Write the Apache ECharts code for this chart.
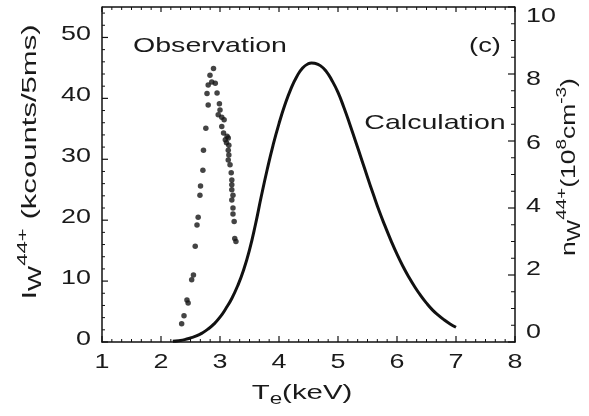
<!DOCTYPE html>
<html>
<head>
<meta charset="utf-8">
<script src="https://cdn.jsdelivr.net/npm/echarts@6/dist/echarts.min.js"></script>
<style>html,body{margin:0;padding:0;background:#fff;}#c{width:589px;height:416px;}</style>
</head>
<body>
<div id="c"></div>
<script>
// Calculation curve: T_e (keV) vs n_W44+ (10^8 cm^-3), right axis
const calcT = [2.2,2.3,2.4,2.5,2.6,2.7,2.8,2.9,3.0,3.1,3.2,3.3,3.4,3.5,3.6,3.7,3.8,3.9,4.0,4.1,4.2,4.3,4.4,4.5,4.55,4.6,4.7,4.8,4.9,5.0,5.1,5.2,5.3,5.4,5.5,5.6,5.7,5.8,5.9,6.0,6.1,6.2,6.3,6.4,6.5,6.6,6.7,6.8,6.9,7.0];
const calcN = [0.02,0.04,0.07,0.12,0.18,0.27,0.39,0.54,0.74,1.0,1.3,1.68,2.15,2.75,3.5,4.35,5.15,5.88,6.52,7.08,7.55,7.92,8.18,8.31,8.33,8.32,8.25,8.08,7.8,7.45,7.0,6.5,5.98,5.45,4.92,4.4,3.9,3.45,3.02,2.62,2.26,1.94,1.65,1.39,1.16,0.96,0.8,0.66,0.54,0.44];
// Observation points: T_e (keV) vs I_W44+ (kcounts/5ms), left axis
const obsT = [2.35,2.39,2.44,2.46,2.52,2.55,2.58,2.61,2.63,2.66,2.67,2.71,2.72,2.76,2.80,2.78,2.80,2.83,2.89,2.86,2.92,2.95,2.99,3.00,2.97,3.03,3.06,3.14,3.11,3.14,3.14,3.17,3.19,3.20,3.20,3.20,3.22,3.22,3.24,3.25,3.27,3.09,3.15,3.12,3.15,3.07,3.03,3.20,3.22];
const obsI = [3.0,4.3,6.9,6.4,10.2,11.0,15.7,19.2,20.5,24.1,25.6,28.2,31.5,35.1,38.9,40.8,42.2,43.8,44.9,42.7,42.5,40.9,39.1,38.1,37.3,35.4,34.3,33.5,32.7,31.5,29.9,29.1,27.8,26.6,25.0,23.3,22.0,21.0,19.8,17.0,16.5,33.2,32.3,33.8,30.7,36.5,36.9,25.8,24.1];
// Axis ranges / tick labels
const xRange = [1, 8], xStep = 1, xMinorSplit = 6;
const yLeftRange = [0, 55], yLeftStep = 10, yLeftMinorStep = 2;
const yRightRange = [0, 10], yRightStep = 2, yRightMinorStep = 0.5;
const xTickLabels = ['1', '2', '3', '4', '5', '6', '7', '8'];
const yLeftTickLabels = ['0', '10', '20', '30', '40', '50'];
const yRightTickLabels = ['0', '2', '4', '6', '8', '10'];

const chart = echarts.init(document.getElementById('c'), null, {renderer: 'canvas'});
const axisLineStyle = {color: '#111', width: 1.5};
const txt = '#1a1a1a';
const base = 'Liberation Sans';

chart.setOption({
  animation: false,
  grid: {left: 102, right: 74, top: 7, bottom: 74},
  xAxis: [
    {type: 'value', min: xRange[0], max: xRange[1], interval: xStep, position: 'bottom',
     axisLine: {show: true, onZero: false, lineStyle: axisLineStyle}, splitLine: {show: false},
     axisTick: {show: false}, axisLabel: {show: false}}
  ],
  yAxis: [
    {type: 'value', min: yLeftRange[0], max: yLeftRange[1], interval: yLeftStep, position: 'left',
     axisLine: {show: true, onZero: false, lineStyle: axisLineStyle}, splitLine: {show: false},
     axisTick: {show: false}, axisLabel: {show: false}},
    {type: 'value', min: yRightRange[0], max: yRightRange[1], interval: yRightStep, position: 'right',
     axisLine: {show: true, onZero: false, lineStyle: axisLineStyle}, splitLine: {show: false},
     axisTick: {show: false}, axisLabel: {show: false}}
  ],
  series: [
    {name: 'Calculation', type: 'line', xAxisIndex: 0, yAxisIndex: 1, smooth: true, showSymbol: false,
     lineStyle: {color: '#111', width: 3}, data: calcT.map((t, i) => [t, calcN[i]])},
    {name: 'Observation', type: 'scatter', xAxisIndex: 0, yAxisIndex: 0, symbolSize: 5.5,
     itemStyle: {color: '#151515'}, data: obsT.map((t, i) => [t, obsI[i]])}
  ]
});

// Pixel positions from the chart's own scales
const px = v => chart.convertToPixel({xAxisIndex: 0}, v);
const pyL = v => chart.convertToPixel({yAxisIndex: 0}, v);
const pyR = v => chart.convertToPixel({yAxisIndex: 1}, v);
const L = px(xRange[0]), R = px(xRange[1]), B = pyL(yLeftRange[0]), T = pyL(yLeftRange[1]);

const g = [];
function seg(x1, y1, x2, y2, w) {
  g.push({type: 'line', silent: true, shape: {x1: x1, y1: y1, x2: x2, y2: y2}, style: {stroke: '#111', lineWidth: w}});
}
// top frame line
seg(L, T, R, T, 1.5);
// x ticks (bottom and top, inward)
for (let i = 0; i <= (xRange[1] - xRange[0]) * xMinorSplit; i++) {
  const v = xRange[0] + i / xMinorSplit, major = i % xMinorSplit === 0, x = px(v);
  seg(x, B, x, B - (major ? 6 : 3), major ? 1.2 : 1);
  seg(x, T, x, T + (major ? 5 : 3), major ? 1.2 : 1);
}
// left y ticks
for (let v = yLeftRange[0]; v <= yLeftRange[1]; v += yLeftMinorStep) {
  const major = v % yLeftStep === 0, y = pyL(v);
  seg(L, y, L + (major ? 6 : 3), y, major ? 1.2 : 1);
}
// right y ticks
for (let v = yRightRange[0]; v <= yRightRange[1] + 1e-9; v += yRightMinorStep) {
  const major = Math.abs(v / yRightStep - Math.round(v / yRightStep)) < 1e-9, y = pyR(v);
  seg(R, y, R - (major ? 7 : 4), y, major ? 1.2 : 1);
}

// Tick labels
const tickStyle = {fontFamily: base, fontSize: 21, fill: txt, verticalAlign: 'middle'};
xTickLabels.forEach(function (s) {
  g.push({type: 'text', x: px(Number(s)), y: B + 20, scaleX: 1.28, style: Object.assign({text: s, align: 'center'}, tickStyle)});
});
yLeftTickLabels.forEach(function (s) {
  g.push({type: 'text', x: L - 11, y: pyL(Number(s)) - 3, scaleX: 1.28, style: Object.assign({text: s, align: 'right'}, tickStyle)});
});
yRightTickLabels.forEach(function (s) {
  const v = Number(s);
  g.push({type: 'text', x: R + 11, y: pyR(v) + 1.9 * (v - 5), scaleX: 1.28, style: Object.assign({text: s, align: 'left'}, tickStyle)});
});

// Annotations and axis titles
g.push(
  {type: 'text', x: 210, y: 46, scaleX: 1.36, style: {text: 'Observation', fontFamily: base, fontSize: 21, fill: txt, align: 'center', verticalAlign: 'middle'}},
  {type: 'text', x: 485, y: 46, scaleX: 1.3, style: {text: '(c)', fontFamily: base, fontSize: 21, fill: txt, align: 'center', verticalAlign: 'middle'}},
  {type: 'text', x: 435, y: 123, scaleX: 1.36, style: {text: 'Calculation', fontFamily: base, fontSize: 21, fill: txt, align: 'center', verticalAlign: 'middle'}},
  {type: 'text', x: 302, y: 393, scaleX: 1.4, style: {
    text: '{n|T}{sub|e}{n|(keV)}', fontFamily: base, fontSize: 21, fill: txt, align: 'center', verticalAlign: 'middle',
    rich: {n: {fontFamily: base, fontSize: 21, lineHeight: 30, verticalAlign: 'middle', fill: txt},
           sub: {fontFamily: base, fontSize: 16, lineHeight: 16, verticalAlign: 'bottom', fill: txt}}}},
  {type: 'text', x: 30, y: 162, rotation: Math.PI / 2, scaleX: 1.48, style: {
    text: '{n|I}{sub|W}{sup|44+}{n| (kcounts/5ms)}', fontFamily: base, fontSize: 21, fill: txt, align: 'center', verticalAlign: 'middle',
    rich: {n: {fontFamily: base, fontSize: 21, lineHeight: 30, verticalAlign: 'middle', fill: txt},
           sub: {fontFamily: base, fontSize: 18, lineHeight: 18, verticalAlign: 'bottom', fill: txt},
           sup: {fontFamily: base, fontSize: 15, lineHeight: 15, verticalAlign: 'top', fill: txt}}}},
  {type: 'text', x: 569, y: 167, rotation: Math.PI / 2, scaleX: 1.26, style: {
    text: '{n|n}{sub|W}{sup|44+}{n|(10}{sup|8}{n|cm}{sup|-3}{n|)}', fontFamily: base, fontSize: 21, fill: txt, align: 'center', verticalAlign: 'middle',
    rich: {n: {fontFamily: base, fontSize: 21, lineHeight: 30, verticalAlign: 'middle', fill: txt},
           sub: {fontFamily: base, fontSize: 18, lineHeight: 18, verticalAlign: 'bottom', fill: txt},
           sup: {fontFamily: base, fontSize: 15, lineHeight: 15, verticalAlign: 'top', fill: txt}}}}
);
chart.setOption({graphic: g});
</script>
</body>
</html>
